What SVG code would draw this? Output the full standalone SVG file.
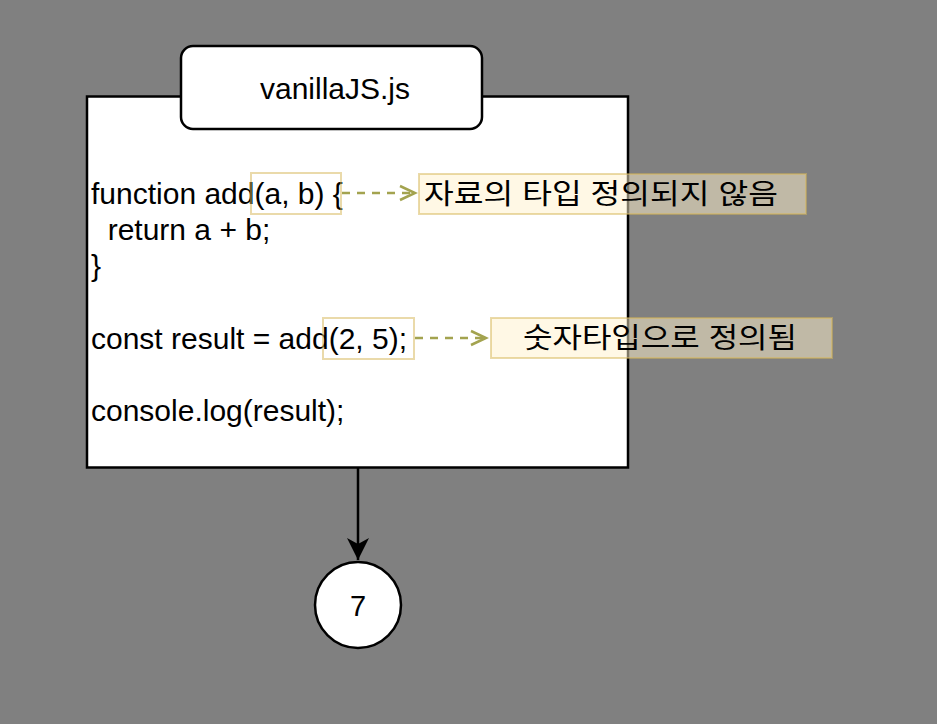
<svg xmlns="http://www.w3.org/2000/svg" width="937" height="724" viewBox="0 0 937 724">
<style>
.code{font-family:"Liberation Sans",Arial,sans-serif;font-size:30px;fill:#000}
.ko{font-family:"Liberation Sans","Noto Sans CJK KR",sans-serif;font-size:28px;fill:#000}
.hl{fill:none;stroke:#d6b656;stroke-opacity:0.5;stroke-width:2}
.note{fill:#fff2cc;fill-opacity:0.5;stroke:#d6b656;stroke-opacity:0.5;stroke-width:2}
.dash{fill:none;stroke:#a3a34f;stroke-width:2.5;stroke-dasharray:8 7}
.chev{fill:none;stroke:#a3a34f;stroke-width:2.5}
</style>
<defs>
<marker id="arr" markerWidth="26" markerHeight="26" refX="22" refY="11" orient="auto" markerUnits="userSpaceOnUse">
<path d="M0,0 L22,11 L0,22 L6,11 Z" fill="#000"/>
</marker>
</defs>
<rect width="937" height="724" fill="#808080"/>
<g id="file">
<rect x="87" y="96.5" width="541" height="371" fill="#fff" stroke="#000" stroke-width="2.5"/>
<text class="code" x="91" y="204">function add(a, b) {</text>
<text class="code" x="91" y="240" xml:space="preserve">  return a + b;</text>
<text class="code" x="91" y="276">}</text>
<text class="code" x="91" y="349">const result = add(2, 5);</text>
<text class="code" x="91" y="421">console.log(result);</text>
</g>
<g id="tab">
<rect x="181" y="46" width="301" height="83" rx="12" fill="#fff" stroke="#000" stroke-width="2.5"/>
<text class="code" x="335" y="99" text-anchor="middle">vanillaJS.js</text>
</g>
<g id="hl1"><rect class="hl" x="251" y="173" width="90" height="41"/></g>
<g id="hl2"><rect class="hl" x="323" y="318" width="91" height="41"/></g>
<g id="note1">
<rect class="note" x="419" y="174" width="387" height="40"/>
<text class="ko" x="424" y="204" textLength="354" lengthAdjust="spacingAndGlyphs">자료의 타입 정의되지 않음</text>
</g>
<g id="note2">
<rect class="note" x="491" y="318" width="341" height="40"/>
<text class="ko" x="660" y="348" text-anchor="middle" textLength="274" lengthAdjust="spacingAndGlyphs">숫자타입으로 정의됨</text>
</g>
<g id="result">
<circle cx="358" cy="605" r="43" fill="#fff" stroke="#000" stroke-width="2.5"/>
<text class="code" x="358" y="616" text-anchor="middle" style="font-size:29px">7</text>
</g>
<g id="connectors">
<line x1="342" y1="193" x2="412" y2="193" class="dash"/>
<polyline points="400,186 415,193 400,200" class="chev"/>
<line x1="415" y1="338" x2="484" y2="338" class="dash"/>
<polyline points="471,331 486,338 471,345" class="chev"/>
<line x1="358" y1="468" x2="358" y2="560" stroke="#000" stroke-width="2.5" marker-end="url(#arr)"/>
</g>
</svg>
